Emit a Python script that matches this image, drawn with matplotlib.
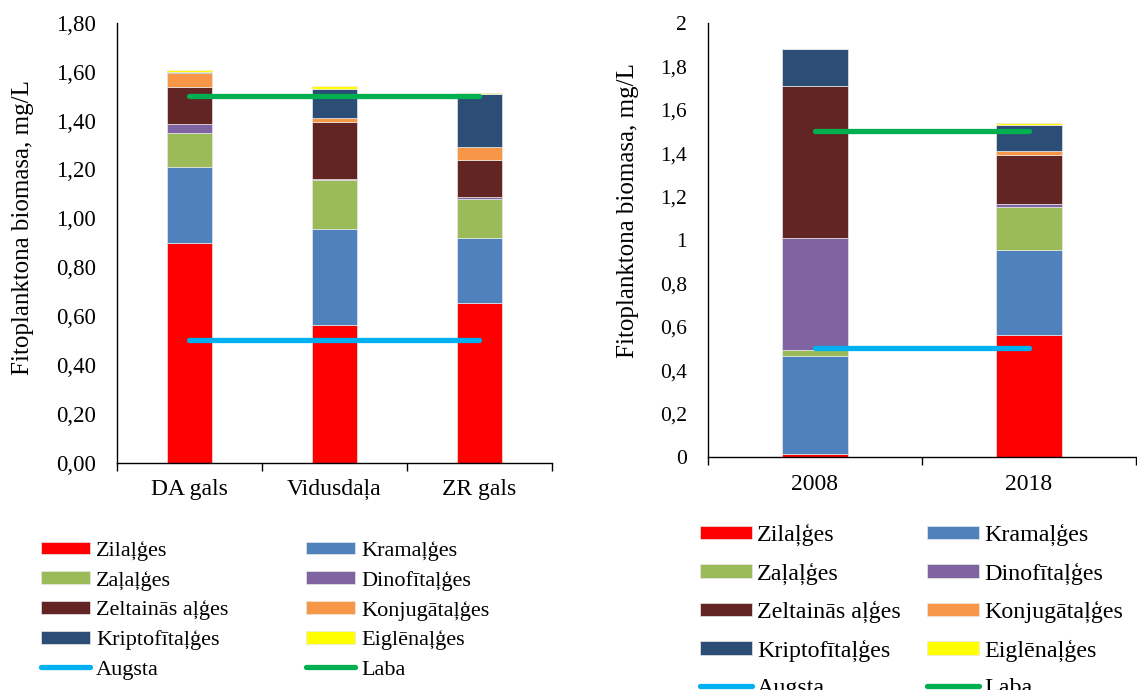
import numpy as np
import matplotlib.pyplot as plt
from matplotlib.ticker import FuncFormatter, FixedLocator

plt.rcParams['font.family'] = ['Liberation Serif', 'DejaVu Serif']

# loading data
left_cats = ['DA gals', 'Vidusdaļa', 'ZR gals']
right_cats = ['2008', '2018']

groups = ['Zilaļģes', 'Kramaļģes', 'Zaļaļģes', 'Dinofītaļģes',
          'Zeltainās aļģes', 'Konjugātaļģes', 'Kriptofītaļģes', 'Eiglēnaļģes']
colors = ['#FF0000', '#4F81BD', '#9BBB59', '#8064A2',
          '#632523', '#F79646', '#2C4D75', '#FFFF00']

zila_l = [0.90, 0.565, 0.655]
krama_l = [0.31, 0.39, 0.265]
zala_l = [0.14, 0.20, 0.158]
dino_l = [0.036, 0.008, 0.008]
zelt_l = [0.152, 0.23, 0.154]
konj_l = [0.056, 0.016, 0.054]
kripto_l = [0.007, 0.122, 0.215]
eigl_l = [0.006, 0.01, 0.005]

zila_r = [0.016, 0.563]
krama_r = [0.45, 0.39]
zala_r = [0.026, 0.20]
dino_r = [0.518, 0.014]
zelt_r = [0.699, 0.226]
konj_r = [0.0, 0.017]
kripto_r = [0.169, 0.121]
eigl_r = [0.0, 0.009]

augsta_l = [0.5, 0.5, 0.5]
laba_l = [1.5, 1.5, 1.5]
augsta_r = [0.5, 0.5]
laba_r = [1.5, 1.5]

left_series = [zila_l, krama_l, zala_l, dino_l, zelt_l, konj_l, kripto_l, eigl_l]
right_series = [zila_r, krama_r, zala_r, dino_r, zelt_r, konj_r, kripto_r, eigl_r]


def draw(ax, cats, series, augsta, laba, ymax, fmt, yfs):
    x = np.arange(len(cats))
    bottom = np.zeros(len(cats))
    handles = []
    for name, vals, c in zip(groups, series, colors):
        b = ax.bar(x, vals, 0.31, bottom=bottom, color=c, label=name,
                   edgecolor='#e8e8e8', linewidth=0.5)
        bottom += np.array(vals)
        handles.append(b)
    la, = ax.plot(x, augsta, color='#00B0F0', lw=3.8, solid_capstyle='round', label='Augsta')
    lb, = ax.plot(x, laba, color='#00B050', lw=3.8, solid_capstyle='round', label='Laba')
    handles += [la, lb]

    ax.set_xlim(-0.5, len(cats) - 0.5)
    ax.set_ylim(0, ymax)
    ax.set_xticks(x)
    ax.set_xticklabels(cats, fontsize=17)
    ax.xaxis.set_minor_locator(FixedLocator(np.arange(len(cats) + 1) - 0.5))
    ax.tick_params(axis='x', which='major', length=0, pad=12)
    ax.tick_params(axis='x', which='minor', length=6, width=1, direction='out')
    ax.set_yticks(np.arange(0, ymax + 0.001, 0.2))
    ax.yaxis.set_major_formatter(FuncFormatter(fmt))
    ax.tick_params(axis='y', length=0, pad=15, labelsize=yfs)
    for s in ['top', 'right']:
        ax.spines[s].set_visible(False)
    for s in ['left', 'bottom']:
        ax.spines[s].set_linewidth(1)
    ax.set_ylabel('Fitoplanktona biomasa, mg/L', fontsize=18)
    return handles


def fmt_left(v, pos):
    return ('%.2f' % v).replace('.', ',')


def fmt_right(v, pos):
    s = ('%.1f' % v).rstrip('0').rstrip('.')
    return s.replace('.', ',')


fig = plt.figure(figsize=(11.37, 6.9), dpi=100)
ax1 = fig.add_axes([0.1026, 0.3297, 0.3826, 0.637])
ax2 = fig.add_axes([0.6227, 0.3377, 0.376, 0.629])

h1 = draw(ax1, left_cats, left_series, augsta_l, laba_l, 1.8, fmt_left, 16.5)
h2 = draw(ax2, right_cats, right_series, augsta_r, laba_r, 2.0, fmt_right, 15.5)

ax1.yaxis.set_label_coords(-0.19, 0.534)
ax2.yaxis.set_label_coords(-0.161, 0.567)

# column-wise order so that rows read like the original
order = [0, 2, 4, 6, 8, 1, 3, 5, 7, 9]
labels = groups + ['Augsta', 'Laba']

fig.legend([h1[i] for i in order], [labels[i] for i in order], ncol=2,
           loc='upper left', bbox_to_anchor=(41 / 1137, 1 - 541 / 690),
           frameon=False, fontsize=16, handlelength=2.2, handleheight=0.5,
           handletextpad=0.27, labelspacing=0.45, columnspacing=3.5,
           borderpad=0, borderaxespad=0)
fig.legend([h2[i] for i in order], [labels[i] for i in order], ncol=2,
           loc='upper left', bbox_to_anchor=(700 / 1137, 1 - 524 / 690),
           frameon=False, fontsize=17.3, handlelength=2.17, handleheight=0.5,
           handletextpad=0.2, labelspacing=0.67, columnspacing=1.1,
           borderpad=0, borderaxespad=0)

fig.savefig('out.png', dpi=100)
